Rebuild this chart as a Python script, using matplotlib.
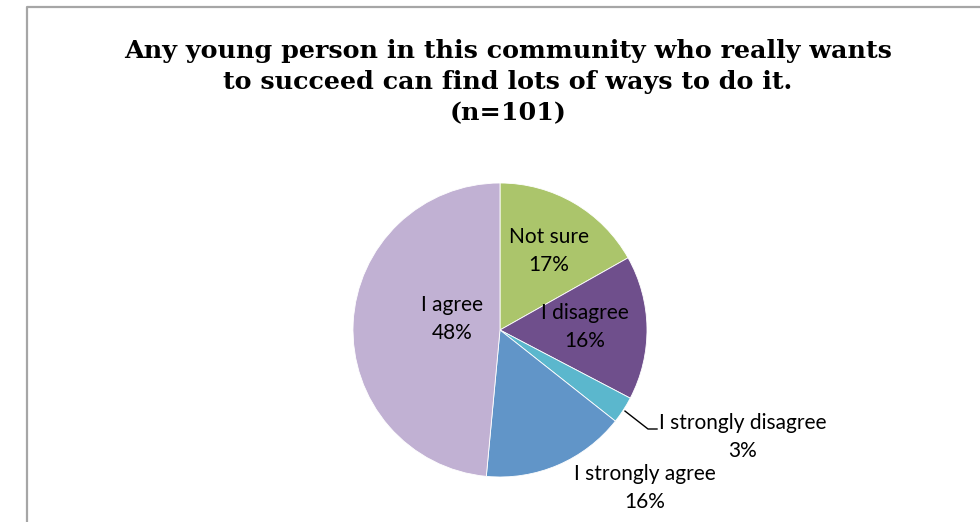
import matplotlib.pyplot as plt
import numpy as np

title = "Any young person in this community who really wants\nto succeed can find lots of ways to do it.\n(n=101)"
categories = ["Not sure", "I disagree", "I strongly disagree", "I strongly agree", "I agree"]
counts = [17, 16, 3, 16, 49]          # responses, n=101
pct_labels = ["17%", "16%", "3%", "16%", "48%"]
colors = ["#abc56b", "#6f4f8c", "#5bb7cd", "#6195c8", "#c1b1d3"]

W, H = 980, 522
fig = plt.figure(figsize=(W / 100, H / 100), dpi=100)
ax = fig.add_axes([0, 0, 1, 1])

cx, cy, r = 500, H - 330, 147
wedges, _ = ax.pie(counts, colors=colors, startangle=90, counterclock=False,
                   center=(cx, cy), radius=r, frame=True,
                   wedgeprops=dict(edgecolor='white', linewidth=0.6))
ax.set_xlim(0, W)
ax.set_ylim(0, H)
ax.set_aspect('equal')
ax.axis('off')

# chart frame (runs off the right and bottom of the picture)
ax.plot([27, 27, 992], [-5, H - 7, H - 7], color='#a6a6a6', lw=1.6, clip_on=False)

# label centres as offsets from the pie centre (pixels)
label_pos = [(49, 79), (85, 3), (243, -107), (145, -158), (-48, 11)]
for name, pct, (dx, dy) in zip(categories, pct_labels, label_pos):
    ax.text(cx + dx, cy + dy, f"{name}\n{pct}", ha='center', va='center',
            fontsize=15, family='Lato', linespacing=1.5, color='black')

# leader line for the small slice
w = wedges[2]
mid = np.deg2rad((w.theta1 + w.theta2) / 2)
x0, y0 = cx + (r + 2) * np.cos(mid), cy + (r + 2) * np.sin(mid)
ax.plot([x0, cx + 148, cx + 157], [y0, cy - 99, cy - 99], color='black', lw=1)

fig.text(0.518, 1 - 82 / H, title, ha='center', va='center', fontsize=18.3,
         family='DejaVu Serif', fontweight='bold', linespacing=1.38)

fig.savefig('out.png', dpi=100)
